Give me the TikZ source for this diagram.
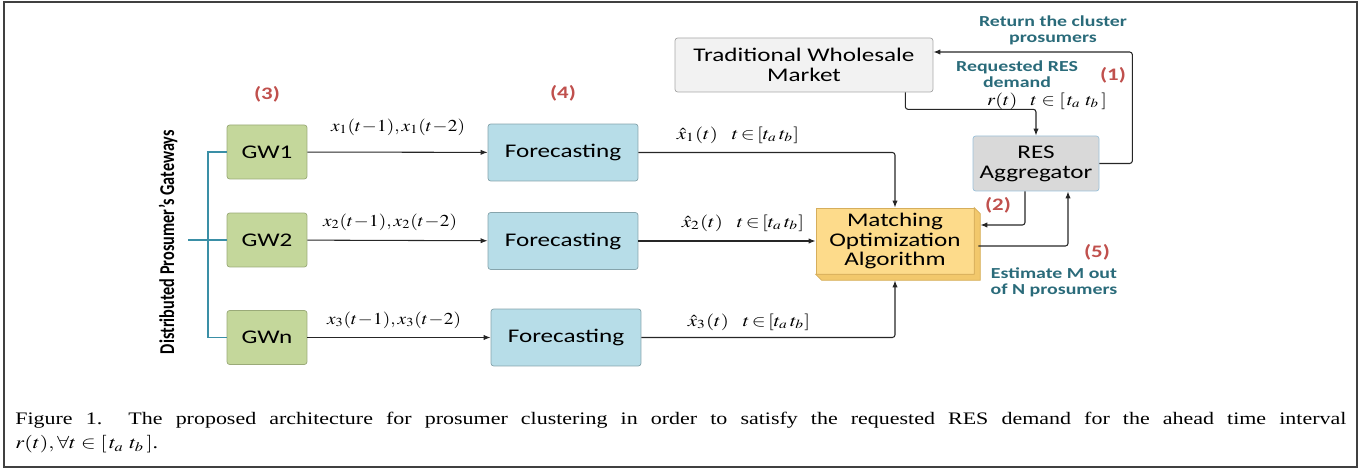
\documentclass[tikz,border=0pt]{standalone}
\usepackage[no-math]{fontspec}
\usepackage{mathptmx}
\setmainfont{Liberation Serif}
\newfontfamily\cajafont[FakeStretch=1.3]{Carlito}
\newfontfamily\ejefont[FakeStretch=0.77]{Carlito}
\usepackage{graphicx}
\usetikzlibrary{arrows.meta}

\definecolor{verdegw}{HTML}{C4D79B}
\definecolor{bordegw}{HTML}{9AAA78}
\definecolor{azulfc}{HTML}{B7DDE8}
\definecolor{bordefc}{HTML}{86A4AC}
\definecolor{amarillo}{HTML}{FDDB8B}
\definecolor{amarillolado}{HTML}{F2C86C}
\definecolor{bordeam}{HTML}{D6AE5C}
\definecolor{grisres}{HTML}{D9D9D9}
\definecolor{bordres}{HTML}{9CC2DA}
\definecolor{grismk}{HTML}{F2F2F2}
\definecolor{bordemk}{HTML}{A6A6A6}
\definecolor{tealbus}{HTML}{3A8FA6}
\definecolor{tealnota}{HTML}{2A6B7A}
\definecolor{rojopaso}{HTML}{C0504D}

\begin{document}
\begin{tikzpicture}[x=0.02cm, y=-0.02cm,
  caja/.style={draw, rounded corners=1.5pt, align=center, inner sep=0pt,
    font=\cajafont\fontsize{11}{11.3}\selectfont},
  gw/.style={caja, fill=verdegw, draw=bordegw, minimum width=1.6cm, minimum height=1.08cm},
  prev/.style={caja, fill=azulfc, draw=bordefc, minimum width=3cm, minimum height=1.14cm},
  flujo/.style={draw=black!85, line width=0.6pt, rounded corners=1.5pt,
    -{Latex[length=4pt,width=3pt]}},
  bus/.style={draw=tealbus, line width=1.1pt},
  paso/.style={text=rojopaso, font=\cajafont\bfseries\fontsize{10}{10}\selectfont},
  nota/.style={text=tealnota, align=center, font=\cajafont\bfseries\fontsize{8.7}{9}\selectfont},
  mate/.style={inner sep=0pt, font=\fontsize{9.5}{11}\selectfont}]

 \useasboundingbox (0,0) rectangle (1366,472);

 % --- MARCO ---
 \draw[line width=1pt, black!75] (4,2) rectangle (1357,467);

 % --- GATEWAYS ---
 \node[rotate=90, font=\ejefont\bfseries\fontsize{12}{12}\selectfont] (eje) at (168,242) {Distributed Prosumer’s Gateways};
 \node[gw] (gw1) at (267,152) {GW1};
 \node[gw] (gw2) at (267,240) {GW2};
 \node[gw] (gwn) at (267,337.5) {GWn};

 % bus que une los gateways
 \draw[bus] (gw1.west) -- ++(-19,0) |- (gwn.west);
 \draw[bus] (gw2.west) -- ++(-39,0);

 % --- PREVISION ---
 \node[prev] (fc1) at (563,152.5) {Forecasting};
 \node[prev] (fc2) at (563,241) {Forecasting};
 \node[prev] (fc3) at (566,337.5) {Forecasting};

 % --- OPTIMIZACION, AGREGADOR Y MERCADO ---
 \node[caja, fill=amarillo, draw=bordeam, rounded corners=0pt, minimum width=3.16cm, minimum height=1.32cm] (match) at (895,241) {Matching\\Optimization\\Algorithm};
 % cara lateral (efecto 3D)
 \filldraw[fill=amarillolado, draw=bordeam] (match.north east) -- ++(6,6) |- ([shift={(0.12cm,-0.12cm)}]match.south west) -- (match.south west) -- (match.south east) -- cycle;

 \node[caja, fill=grisres, draw=bordres, minimum width=2.52cm, minimum height=1.1cm] (res) at (1036,163.5) {RES\\Aggregator};
 \node[caja, fill=grismk, draw=bordemk, minimum width=5.16cm, minimum height=1.08cm] (market) at (804,65) {Traditional Wholesale\\Market};

 % --- FLECHAS ---
 \draw[flujo] (gw1) -- (fc1);
 \draw[flujo] (gw2) -- (fc2);
 \draw[flujo] (gwn) -- (fc3);

 \draw[flujo] (fc1.east) -| (match.north);
 \draw[flujo] (fc2.east) -- (match.west);
 \draw[flujo] (fc3.east) -| ([yshift=-0.12cm]match.south);

 \draw[flujo] ([xshift=-0.56cm]market.south east) -- ++(0,17) -| (res.north);
 \draw[flujo] (res.east) -- ++(33,0) |- ([yshift=0.26cm]market.east);
 \draw[flujo] ([xshift=-0.22cm]res.south) |- ([shift={(0.12cm,0.32cm)}]match.east);
 \draw[flujo] ([shift={(0.08cm,-0.1cm)}]match.east) -| ([xshift=0.64cm]res.south);

 % --- ETIQUETAS ---
 \node[paso] (p3) at (267,94) {(3)};
 \node[paso] (p4) at (563,93) {(4)};
 \node[paso] (p1) at (1113,75) {(1)};
 \node[paso] (p2) at (998,205) {(2)};
 \node[paso] (p5) at (1097,252) {(5)};

 \node[nota] (n1) at (1053,30) {Return the cluster\\prosumers};
 \node[nota] (n2) at (1017,74) {Requested RES\\demand};
 \node[nota] (n3) at (1054,282) {Estimate M out\\of N prosumers};

 \node[mate] (e1) at (398,127) {\scalebox{1.15}[1]{$x_1(t\!-\!1),x_1(t\!-\!2)$}};
 \node[mate] (e2) at (390,222) {\scalebox{1.15}[1]{$x_2(t\!-\!1),x_2(t\!-\!2)$}};
 \node[mate] (e3) at (394,320) {\scalebox{1.15}[1]{$x_3(t\!-\!1),x_3(t\!-\!2)$}};
 \node[mate] (h1) at (738,135) {\scalebox{1.25}[1]{$\hat{x}_1(t)\;\;\; t\!\in\![t_a\,t_b]$}};
 \node[mate] (h2) at (743,223) {\scalebox{1.25}[1]{$\hat{x}_2(t)\;\;\; t\!\in\![t_a\,t_b]$}};
 \node[mate] (h3) at (749,322) {\scalebox{1.25}[1]{$\hat{x}_3(t)\;\;\; t\!\in\![t_a\,t_b]$}};
 \node[mate] (rt) at (1047,101) {\scalebox{1.2}[1]{$r(t)\;\;\; t\in[\,t_a\ t_b\,]$}};

 % Pie de figura
 \node[anchor=base west, inner sep=0pt] (leyenda) at (15,425) {\scalebox{1.25}[1]{\parbox[t]{21.3cm}{\fontsize{10}{13.6}\selectfont Figure 1.\ \ The proposed architecture for prosumer clustering in order to satisfy the requested RES demand for the ahead time interval\linebreak $r(t), \forall t\in[\,t_a\ t_b\,]$.}}};

\end{tikzpicture}
\end{document}
